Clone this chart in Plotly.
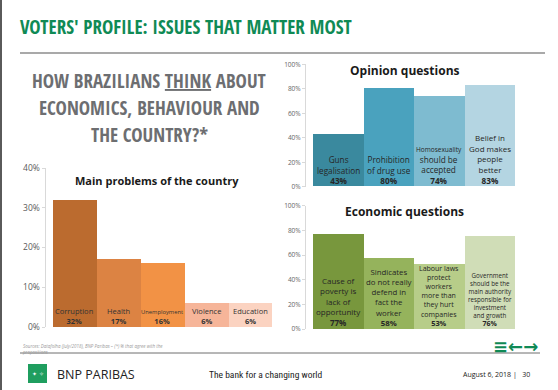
import plotly.graph_objects as go

W, H = 558, 390

# ---------------- data ----------------
problems = ["Corruption", "Health", "Unemployment", "Violence", "Education"]
problems_pct = [32, 17, 16, 6, 6]

opinion_labels = ["Guns<br>legalisation", "Prohibition<br>of drug use",
                  "Homosexuality", "Belief in<br>God makes<br>people<br>better"]
opinion_extra = ["", "", "should be<br>accepted", ""]
opinion_pct = [43, 80, 74, 83]

economic_labels = ["Cause of<br>poverty is<br>lack of<br>opportunity",
                   "Sindicates<br>do not really<br>defend in<br>fact the<br>worker",
                   "Labour laws<br>protect<br>workers<br>more than<br>they hurt<br>companies",
                   "Government<br>should be the<br>main authority<br>responsible for<br>investment<br>and growth"]
economic_pct = [77, 58, 53, 76]

left_ticks = [0, 10, 20, 30, 40]
right_ticks = [0, 20, 40, 60, 80, 100]

# ---------------- styles ----------------
problem_colors = ["#bb6b2f", "#dc8343", "#f29245", "#f6b599", "#fbd3c1"]
opinion_colors = ["#3a899e", "#4aa2be", "#7ebbd0", "#b4d5e2"]
economic_colors = ["#78973d", "#95b35c", "#b7cd89", "#d0ddb7"]
problem_fs = [7.5, 7.5, 5.8, 7.5, 7.5]
opinion_fs = [8.2, 8.2, 6.5, 8.0]
economic_fs = [8.0, 7.8, 7.0, 6.2]
economic_pct_fs = [8.0, 7.8, 7.4, 7.0]

GREEN = "#0f8a55"
SANS = "Open Sans, Noto Sans, DejaVu Sans, sans-serif"
COND = "Open Sans Condensed, Roboto Condensed, DejaVu Sans Condensed, sans-serif"
COND_REG = "Roboto Condensed, DejaVu Sans Condensed, sans-serif"

def px(x):
    return x / W

def py(y):
    return 1 - y / H

fig = go.Figure()

fig.add_trace(go.Bar(x=list(range(len(problems))), y=problems_pct, width=1,
                     marker=dict(color=problem_colors, line=dict(width=0)),
                     xaxis="x", yaxis="y", hoverinfo="skip"))
fig.add_trace(go.Bar(x=list(range(len(opinion_pct))), y=opinion_pct, width=1,
                     marker=dict(color=opinion_colors, line=dict(width=0)),
                     xaxis="x2", yaxis="y2", hoverinfo="skip"))
fig.add_trace(go.Bar(x=list(range(len(economic_pct))), y=economic_pct, width=1,
                     marker=dict(color=economic_colors, line=dict(width=0)),
                     xaxis="x3", yaxis="y3", hoverinfo="skip"))

yax_common = dict(showgrid=False, zeroline=False, showline=True, linecolor="#d9d9d9",
                  linewidth=1, ticks="outside", ticklen=3, tickcolor="#d9d9d9",
                  fixedrange=True, automargin=False)

fig.update_layout(
    width=W, height=H, margin=dict(l=0, r=0, t=0, b=0, autoexpand=False),
    paper_bgcolor="white", plot_bgcolor="white", showlegend=False, bargap=0,
    xaxis=dict(domain=[px(45.5), px(272)], range=[-0.648, 4.5], visible=False, fixedrange=True),
    yaxis=dict(domain=[py(327), py(168)], range=[0, 40], tickvals=left_ticks,
               ticktext=[f"{t}%" for t in left_ticks],
               tickfont=dict(family=SANS, size=8.5, color="#595959"), anchor="x", **yax_common),
    xaxis2=dict(domain=[px(306), px(515)], range=[-0.645, 3.5], visible=False, anchor="y2", fixedrange=True),
    yaxis2=dict(domain=[py(186.7), py(64.3)], range=[0, 100], tickvals=right_ticks,
                ticktext=[f"{t}%" for t in right_ticks],
                tickfont=dict(family=SANS, size=6.5, color="#666666"), anchor="x2", **yax_common),
    xaxis3=dict(domain=[px(306), px(515)], range=[-0.645, 3.5], visible=False, anchor="y3", fixedrange=True),
    yaxis3=dict(domain=[py(329), py(205.7)], range=[0, 100], tickvals=right_ticks,
                ticktext=[f"{t}%" for t in right_ticks],
                tickfont=dict(family=SANS, size=6.5, color="#666666"), anchor="x3", **yax_common),
)

ann = []
# bar labels
for i, (lab, v) in enumerate(zip(problems, problems_pct)):
    ann.append(dict(x=i, y=0, xref="x", yref="y", xanchor="center", yanchor="bottom", showarrow=False,
                    text=f"<span style='font-size:{problem_fs[i]}px'>{lab}</span><br><b>{v}%</b>",
                    font=dict(family=SANS, size=7.5, color="#333333"), borderpad=0))
for i, (lab, ex, v) in enumerate(zip(opinion_labels, opinion_extra, opinion_pct)):
    t = f"<span style='font-size:{opinion_fs[i]}px'>{lab}</span>"
    if ex:
        t += f"<br>{ex}"
    t += f"<br><b>{v}%</b>"
    ann.append(dict(x=i, y=0, xref="x2", yref="y2", xanchor="center", yanchor="bottom", showarrow=False,
                    text=t, font=dict(family=SANS, size=8.2, color="#262626"), borderpad=0))
for i, (lab, v) in enumerate(zip(economic_labels, economic_pct)):
    ann.append(dict(x=i, y=0, xref="x3", yref="y3", xanchor="center", yanchor="bottom", showarrow=False,
                    text=f"{lab}<br><b><span style='font-size:{economic_pct_fs[i]}px'>{v}%</span></b>",
                    font=dict(family=SANS, size=economic_fs[i], color="#262626"), borderpad=0))

def paper_text(x, y, text, font, xanchor="center", yanchor="middle", **kw):
    d = dict(x=px(x), y=py(y), xref="paper", yref="paper", xanchor=xanchor, yanchor=yanchor,
             showarrow=False, text=text, font=font)
    d.update(kw)
    ann.append(d)

# chart titles
paper_text(156.7, 180.7, "<b>Main problems of the country</b>", dict(family=SANS, size=11, color="#1a1a1a"))
paper_text(404.5, 70.7, "<b>Opinion questions</b>", dict(family=SANS, size=12, color="#1a1a1a"))
paper_text(404, 211.7, "<b>Economic questions</b>", dict(family=SANS, size=12, color="#1a1a1a"))

# slide title
paper_text(18, 27, "<b>VOTERS' PROFILE: ISSUES THAT MATTER MOST</b>",
           dict(family=COND, size=19, color=GREEN), xanchor="left")
# subtitle
for txt, yy in [("HOW BRAZILIANS <u>THINK</u> ABOUT", 81), ("ECONOMICS, BEHAVIOUR AND", 108),
                ("THE COUNTRY?*", 135)]:
    paper_text(149, yy, f"<b>{txt}</b>", dict(family=COND, size=19, color="#6d6e71"))

# footer
paper_text(20, 341, "<i>Sources: Datafolha (July/2018), BNP Paribas – (*) % that agree with the<br>propositions</i>",
           dict(family=SANS, size=4.5, color="#9a9a9a"), xanchor="left", yanchor="top", align="left")
paper_text(540, 346, "<b>≡←→</b>", dict(family="DejaVu Sans", size=18, color=GREEN), xanchor="right")
paper_text(55, 374, "BNP PARIBAS", dict(family=SANS, size=12.5, color="#222222"), xanchor="left")
paper_text(266, 374, "The bank for a changing world", dict(family=COND_REG, size=9.5, color="#222222"))
paper_text(532, 374, "August 6, 2018 |   30", dict(family=SANS, size=7, color="#222222"), xanchor="right")
paper_text(37.5, 373.5, "✦ ✧", dict(family="DejaVu Sans", size=6, color="white"))

fig.update_layout(annotations=ann)

shapes = [
    dict(type="line", xref="paper", yref="paper", x0=px(20), x1=px(545), y0=py(53), y1=py(53),
         line=dict(color="#8c8c8c", width=1.5)),
    dict(type="line", xref="paper", yref="paper", x0=px(20), x1=px(540), y0=py(353), y1=py(353),
         line=dict(color="#6e6e6e", width=1)),
    dict(type="line", xref="paper", yref="paper", x0=px(1), x1=px(1), y0=0, y1=1,
         line=dict(color="#5a5a5a", width=2)),
    dict(type="rect", xref="paper", yref="paper", x0=px(28), x1=px(47), y0=py(383), y1=py(364),
         fillcolor="#1f9e5f", line=dict(width=0)),
]
fig.update_layout(shapes=shapes)

fig.write_html("out.html", config={"displayModeBar": False},
               post_script="document.body.style.margin='0';")
